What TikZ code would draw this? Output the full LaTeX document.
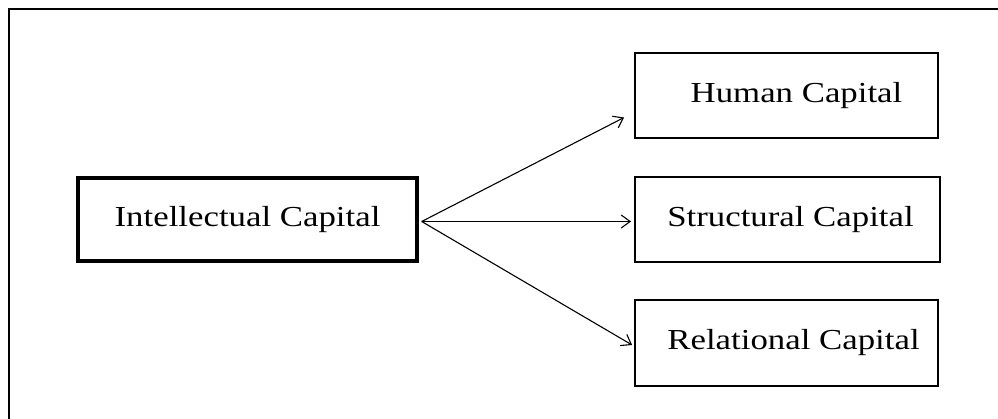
\documentclass[tikz,border=0pt]{standalone}
\usepackage{fontspec}
\setmainfont{Liberation Serif}[FakeStretch=1.2]
\usetikzlibrary{arrows.meta}
\tikzset{
  capbox/.style={draw, line width=1.8pt, rectangle, inner sep=0pt,
    font=\fontsize{29}{32}\selectfont},
  mainbox/.style={capbox, line width=3.4pt},
  link/.style={line width=1.1pt, -{Straight Barb[length=9pt,width=13pt,line width=1.1pt]}},
  frame/.style={line width=2.2pt}
}
\begin{document}
\begin{tikzpicture}[x=1pt,y=-1pt]
\useasboundingbox (0,0) rectangle (998,419);
% open page frame: top and left rules only
\coordinate (fbl) at (9,419);
\coordinate (ftl) at (9,9);
\coordinate (ftr) at (998,9);
\draw[frame] (fbl) -- (ftl) -- (ftr);

\node[mainbox, minimum width=339pt, minimum height=83pt] (ic) at (247.5,219.5) {Intellectual Capital};
\node[capbox, minimum width=303pt, minimum height=85pt] (hc) at (786.5,95.5) {\hspace*{20pt}Human Capital};
\node[capbox, minimum width=305pt, minimum height=85pt] (sc) at (787.5,219.5) {\hspace*{6pt}Structural Capital};
\node[capbox, minimum width=303pt, minimum height=86pt] (rc) at (786.5,343) {\hspace*{14pt}Relational Capital};

\coordinate (src) at ([xshift=3pt,yshift=-2pt]ic.east);
\coordinate (ht) at ([xshift=-10pt,yshift=-22pt]hc.west);
\coordinate (st) at ([xshift=-3pt,yshift=-2pt]sc.west);
\coordinate (rt) at ([xshift=-2pt,yshift=-2pt]rc.west);

\draw[link] (src) -- (ht);
\draw[link] (src) -- (st);
\draw[link] (src) -- (rt);
\end{tikzpicture}
\end{document}
